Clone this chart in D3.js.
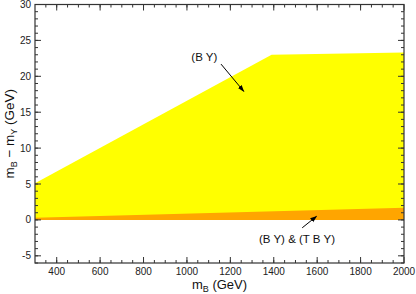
<!DOCTYPE html>
<html>
<head>
<meta charset="utf-8">
<script src="https://cdn.jsdelivr.net/npm/d3@7"></script>
<style>
  body { margin: 0; background: #fff; }
  svg { display: block; font-family: 'Liberation Sans', Arial, sans-serif; }
</style>
</head>
<body>
<svg id="chart"></svg>
<script>
// data
const yellowTopX = [300, 1390, 2000]
const yellowTopY = [5.1, 23.0, 23.3]
const orangeTopX = [300, 2000]
const orangeTopY = [0.3, 1.7]
const xTicks = [400, 600, 800, 1000, 1200, 1400, 1600, 1800, 2000]
const yTicks = [-5, 0, 5, 10, 15, 20, 25, 30]

const margin = { top: 4.5, left: 35, right: 12, bottom: 31 }
const W = 416, H = 294
const width = W - margin.left - margin.right
const height = H - margin.top - margin.bottom

const svg = d3.select('#chart').attr('width', W).attr('height', H)
const g = svg.append('g').attr('transform', `translate(${margin.left},${margin.top})`)

const x = d3.scaleLinear().domain([300, 2000]).range([0, width])
const y = d3.scaleLinear().domain([-6, 30]).range([height, 0])

/// areas
const yellowPts = yellowTopX.map((v, i) => [v, yellowTopY[i]])
const orangePts = orangeTopX.map((v, i) => [v, orangeTopY[i]])

const poly = pts => 'M' + pts.map(p => x(p[0]) + ',' + y(p[1])).join('L') + 'Z'

g.append('path')
  .attr('d', poly(yellowPts.concat([[2000, 0], [300, 0]])))
  .attr('fill', '#ffff00')

g.append('path')
  .attr('d', poly(orangePts.concat([[2000, 0], [300, 0]])))
  .attr('fill', '#ffa500')

/// ticks on all four sides, pointing inward
const minorX = d3.range(350, 2000, 50)
const minorY = d3.range(-6, 30, 1)
const tickCol = '#333'

function ticksX(vals, len, atY, dir) {
  g.append('g').selectAll('line').data(vals).enter().append('line')
    .attr('x1', d => x(d)).attr('x2', d => x(d))
    .attr('y1', atY).attr('y2', atY + dir * len)
    .attr('stroke', tickCol).attr('stroke-width', 1)
}
function ticksY(vals, len, atX, dir) {
  g.append('g').selectAll('line').data(vals).enter().append('line')
    .attr('y1', d => y(d)).attr('y2', d => y(d))
    .attr('x1', atX).attr('x2', atX + dir * len)
    .attr('stroke', tickCol).attr('stroke-width', 1)
}
ticksX(minorX, 3, height, -1)
ticksX(xTicks, 6, height, -1)
ticksX(minorX, 3, 0, 1)
ticksX(xTicks, 6, 0, 1)
ticksY(minorY, 3, 0, 1)
ticksY(yTicks, 6, 0, 1)
ticksY(minorY, 3, width, -1)
ticksY(yTicks, 6, width, -1)

g.append('rect')
  .attr('width', width).attr('height', height)
  .attr('fill', 'none').attr('stroke', tickCol).attr('stroke-width', 1.2)

/// tick labels
g.append('g').selectAll('text').data(xTicks).enter().append('text')
  .attr('x', d => x(d)).attr('y', height + 11.5)
  .attr('text-anchor', 'middle').attr('font-size', 10).attr('fill', '#222')
  .text(d => d)

g.append('g').selectAll('text').data(yTicks).enter().append('text')
  .attr('x', -4).attr('y', d => y(d) + 3.5)
  .attr('text-anchor', 'end').attr('font-size', 10).attr('fill', '#222')
  .text(d => d < 0 ? '-' + Math.abs(d) : d)

/// axis titles
const xt = svg.append('text')
  .attr('x', margin.left + width / 2).attr('y', 289)
  .attr('text-anchor', 'middle').attr('font-size', 13).attr('fill', '#111')
xt.append('tspan').text('m')
xt.append('tspan').attr('font-size', 9).attr('dy', 3).text('B')
xt.append('tspan').attr('dy', -3).text(' (GeV)')

const yt = svg.append('text')
  .attr('transform', `translate(14,${margin.top + height / 2}) rotate(-90)`)
  .attr('text-anchor', 'middle').attr('font-size', 13.5).attr('fill', '#111')
yt.append('tspan').text('m')
yt.append('tspan').attr('font-size', 9).attr('dy', 3).text('B')
yt.append('tspan').attr('dy', -3).text(' \u2212 m')
yt.append('tspan').attr('font-size', 9).attr('dy', 3).text('Y')
yt.append('tspan').attr('dy', -3).text(' (GeV)')

/// annotations
svg.append('defs').append('marker')
  .attr('id', 'head').attr('viewBox', '0 0 10 10')
  .attr('refX', 9).attr('refY', 5)
  .attr('markerWidth', 7).attr('markerHeight', 7)
  .attr('orient', 'auto')
  .append('path').attr('d', 'M0,1.5L10,5L0,8.5Z').attr('fill', '#000')

const labels = [
  { text: '(B Y)', lx: 1080, ly: 22.1, ax1: 1157, ay1: 21.7, ax2: 1262, ay2: 17.9 },
  { text: '(B Y) & (T B Y)', lx: 1507, ly: -3.25, ax1: 1531, ay1: -1.1, ax2: 1597, ay2: 0.5 }
]
labels.forEach(l => {
  g.append('text')
    .attr('x', x(l.lx)).attr('y', y(l.ly))
    .attr('text-anchor', 'middle').attr('font-size', 11.5).attr('fill', '#111')
    .text(l.text)
  g.append('line')
    .attr('x1', x(l.ax1)).attr('y1', y(l.ay1))
    .attr('x2', x(l.ax2)).attr('y2', y(l.ay2))
    .attr('stroke', '#000').attr('stroke-width', 1)
    .attr('marker-end', 'url(#head)')
})
</script>
</body>
</html>
